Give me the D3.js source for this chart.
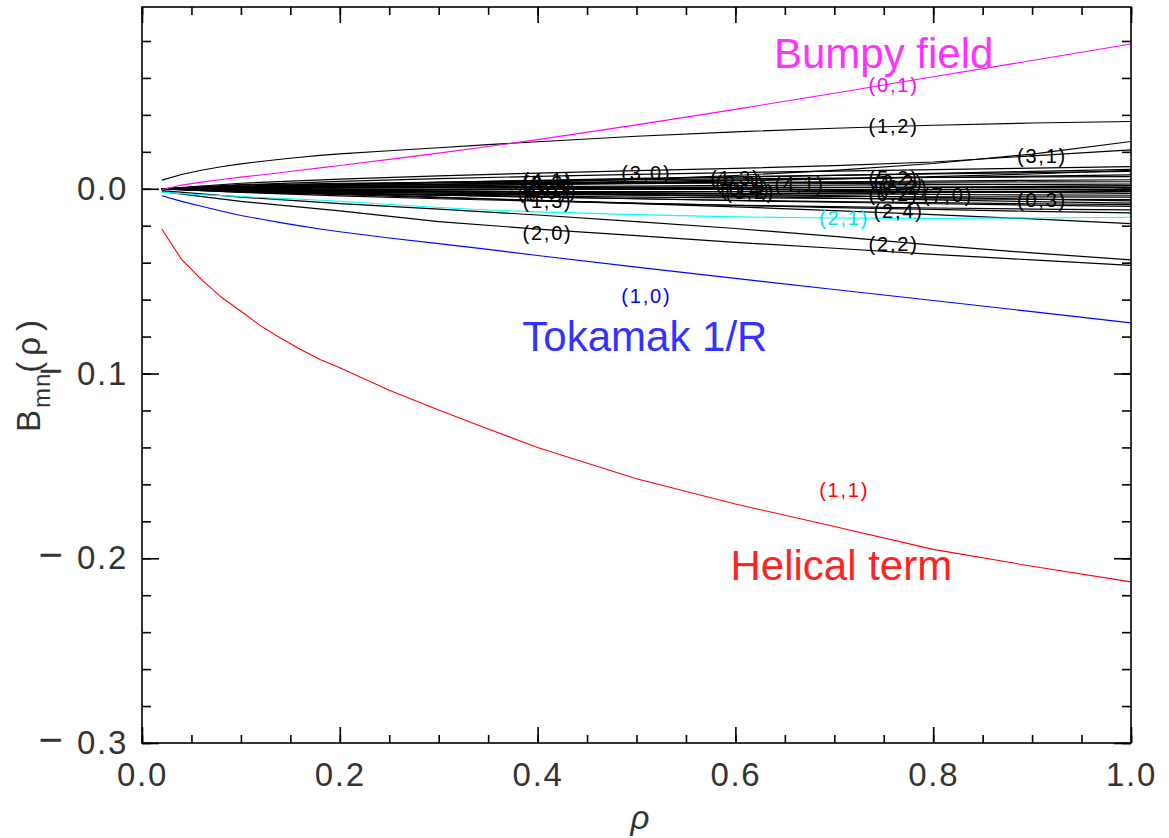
<!DOCTYPE html>
<html>
<head>
<meta charset="utf-8">
<script src="https://cdn.jsdelivr.net/npm/d3@7"></script>
<style>
body { margin: 0; background: #fff; }
text { font-family: "Liberation Sans", Arial, sans-serif; }
</style>
</head>
<body>
<svg id="chart" width="1169" height="838"></svg>
<script>
// radial grids
var rhoFine = [0.02, 0.04, 0.06, 0.08, 0.10, 0.12, 0.14, 0.16, 0.18, 0.20, 0.25, 0.30, 0.35, 0.40, 0.50, 0.60, 0.70, 0.80, 0.90, 1.00];
var rhoCoarse = [0.02, 0.10, 0.20, 0.30, 0.40, 0.50, 0.60, 0.70, 0.80, 0.90, 1.00];

// coloured modes and (1,2) (on rhoFine)
var mode11 = [-0.0218, -0.0382, -0.0490, -0.0586, -0.0663, -0.0742, -0.0808, -0.0869, -0.0924, -0.0969, -0.1090, -0.1197, -0.1300, -0.1400, -0.1570, -0.1706, -0.1828, -0.1952, -0.2043, -0.2128];
var mode10 = [-0.0038, -0.0068, -0.0095, -0.0120, -0.0145, -0.0164, -0.0183, -0.0201, -0.0218, -0.0233, -0.0266, -0.0297, -0.0328, -0.0361, -0.0424, -0.0485, -0.0545, -0.0605, -0.0665, -0.0726];
var mode01 = [-0.0005, 0.0020, 0.0036, 0.0050, 0.0063, 0.0075, 0.0087, 0.0100, 0.0113, 0.0126, 0.0159, 0.0193, 0.0229, 0.0266, 0.0346, 0.0430, 0.0517, 0.0606, 0.0694, 0.0784];
var mode21 = [-0.0018, -0.0026, -0.0032, -0.0037, -0.0042, -0.0047, -0.0052, -0.0057, -0.0062, -0.0068, -0.0085, -0.0101, -0.0115, -0.0125, -0.0140, -0.0152, -0.0158, -0.0160, -0.0158, -0.0154];
var mode12 = [0.0047, 0.0077, 0.0100, 0.0119, 0.0135, 0.0148, 0.0160, 0.0171, 0.0181, 0.0189, 0.0206, 0.0222, 0.0239, 0.0255, 0.0284, 0.0308, 0.0328, 0.0344, 0.0356, 0.0364];

// other black modes (on rhoCoarse)
var mode31 = [0.0000, 0.0006, 0.0014, 0.0024, 0.0036, 0.0051, 0.0072, 0.0100, 0.0137, 0.0188, 0.0256];
var mode30 = [0.0000, 0.0030, 0.0052, 0.0070, 0.0085, 0.0098, 0.0111, 0.0125, 0.0145, 0.0178, 0.0211];
var modeA = [0.0000, 0.0022, 0.0040, 0.0055, 0.0067, 0.0078, 0.0088, 0.0096, 0.0104, 0.0112, 0.0120];
var modeB = [0.0000, 0.0012, 0.0024, 0.0035, 0.0046, 0.0056, 0.0065, 0.0073, 0.0080, 0.0087, 0.0094];
var modeC = [0.0000, 0.0015, 0.0027, 0.0036, 0.0043, 0.0049, 0.0054, 0.0058, 0.0061, 0.0064, 0.0066];
var modeD = [0.0000, 0.0005, 0.0010, 0.0016, 0.0022, 0.0028, 0.0033, 0.0038, 0.0042, 0.0046, 0.0049];
var modeE = [0.0000, 0.0010, 0.0018, 0.0024, 0.0028, 0.0031, 0.0033, 0.0035, 0.0036, 0.0037, 0.0038];
var modeF = [0.0000, 0.0003, 0.0006, 0.0009, 0.0012, 0.0015, 0.0018, 0.0020, 0.0022, 0.0024, 0.0026];
var modeG = [0.0000, -0.0004, -0.0006, -0.0006, -0.0004, -0.0001, 0.0002, 0.0006, 0.0009, 0.0012, 0.0015];
var modeH = [0.0000, 0.0006, 0.0009, 0.0010, 0.0010, 0.0009, 0.0008, 0.0007, 0.0006, 0.0005, 0.0005];
var modeI = [0.0000, -0.0002, -0.0003, -0.0004, -0.0004, -0.0004, -0.0004, -0.0005, -0.0005, -0.0005, -0.0005];
var modeJ = [0.0000, -0.0008, -0.0012, -0.0014, -0.0015, -0.0015, -0.0015, -0.0015, -0.0015, -0.0015, -0.0015];
var modeK = [0.0000, 0.0004, 0.0006, 0.0005, 0.0003, 0.0000, -0.0004, -0.0009, -0.0014, -0.0019, -0.0025];
var modeL = [0.0000, -0.0006, -0.0011, -0.0015, -0.0019, -0.0022, -0.0025, -0.0028, -0.0031, -0.0033, -0.0035];
var mode03 = [0.0000, -0.0002, -0.0006, -0.0011, -0.0016, -0.0022, -0.0029, -0.0037, -0.0046, -0.0056, -0.0065];
var modeM = [0.0000, -0.0015, -0.0026, -0.0034, -0.0040, -0.0045, -0.0049, -0.0052, -0.0055, -0.0057, -0.0059];
var modeN = [0.0000, -0.0012, -0.0024, -0.0035, -0.0045, -0.0054, -0.0062, -0.0069, -0.0075, -0.0081, -0.0086];
var modeO = [0.0000, -0.0020, -0.0038, -0.0054, -0.0067, -0.0079, -0.0089, -0.0097, -0.0104, -0.0110, -0.0114];
var modeP = [0.0000, -0.0010, -0.0025, -0.0045, -0.0063, -0.0080, -0.0098, -0.0118, -0.0140, -0.0163, -0.0189];
var modeQ = [0.0000, 0.0020, 0.0030, 0.0034, 0.0035, 0.0034, 0.0032, 0.0029, 0.0026, 0.0022, 0.0018];
var modeR = [0.0000, -0.0018, -0.0028, -0.0032, -0.0032, -0.0030, -0.0027, -0.0024, -0.0021, -0.0018, -0.0014];
var modeS = [0.0000, -0.0004, -0.0010, -0.0017, -0.0025, -0.0033, -0.0041, -0.0050, -0.0060, -0.0070, -0.0078];
var modeT = [0.0000, 0.0003, 0.0009, 0.0016, 0.0024, 0.0033, 0.0043, 0.0054, 0.0066, 0.0080, 0.0100];
var modeU = [0.0000, -0.0010, -0.0018, -0.0023, -0.0026, -0.0027, -0.0026, -0.0024, -0.0020, -0.0015, -0.0008];
var modeV = [0.0000, 0.0010, 0.0021, 0.0032, 0.0043, 0.0053, 0.0063, 0.0073, 0.0083, 0.0094, 0.0105];
var modeW = [0.0000, 0.0008, 0.0016, 0.0024, 0.0032, 0.0040, 0.0047, 0.0054, 0.0061, 0.0068, 0.0075];
var modeX = [0.0000, -0.0009, -0.0017, -0.0024, -0.0030, -0.0035, -0.0038, -0.0041, -0.0043, -0.0044, -0.0045];
var modeY = [0.0000, -0.0011, -0.0022, -0.0033, -0.0044, -0.0054, -0.0064, -0.0073, -0.0081, -0.0088, -0.0095];
var modeZ = [0.0000, -0.0016, -0.0032, -0.0048, -0.0063, -0.0077, -0.0090, -0.0102, -0.0112, -0.0122, -0.0130];
var modeAA = [0.0000, 0.0002, 0.0004, 0.0006, 0.0007, 0.0008, 0.0008, 0.0008, 0.0008, 0.0008, 0.0008];
var mode22 = [-0.0010, -0.0045, -0.0080, -0.0110, -0.0142, -0.0178, -0.0215, -0.0258, -0.0305, -0.0347, -0.0385];
var mode20 = [-0.0015, -0.0068, -0.0120, -0.0178, -0.0218, -0.0254, -0.0290, -0.0322, -0.0355, -0.0385, -0.0415];

// mode labels
var labelText = ["(4,1)", "(2,3)", "(0,2)", "(3,2)", "(1,3)", "(4,0)",
                 "(1,3)", "(2,3)", "(0,4)", "(3,2)", "(4,1)",
                 "(5,2)", "(3,2)", "(6,2)", "(0,2)", "(2,4)", "(7,0)",
                 "(0,1)", "(1,2)", "(3,1)", "(0,3)", "(2,2)", "(2,1)", "(1,0)", "(2,0)", "(1,1)", "(3,0)"];
var labelRho = [0.41, 0.41, 0.41, 0.415, 0.41, 0.405,
                0.60, 0.605, 0.61, 0.615, 0.665,
                0.76, 0.765, 0.77, 0.76, 0.765, 0.815,
                0.76, 0.76, 0.91, 0.91, 0.76, 0.71, 0.51, 0.41, 0.71, 0.51];
var labelVal = [0.0050, 0.0030, 0.0005, -0.0010, -0.0068, -0.0020,
                0.0060, 0.0030, 0.0000, -0.0020, 0.0025,
                0.0060, 0.0035, 0.0010, -0.0030, -0.0120, -0.0035,
                0.0562, 0.0341, 0.0178, -0.0059, -0.0297, -0.0157, -0.0578, -0.0238, -0.1632, 0.0086];
var labelColor = ["#000", "#000", "#000", "#000", "#000", "#000",
                  "#000", "#000", "#000", "#000", "#000",
                  "#000", "#000", "#000", "#000", "#000", "#000",
                  "#ff00ff", "#000", "#000", "#000", "#000", "#00e5e5", "#0000ff", "#000", "#ff0000", "#000"];

// big annotations
var noteText = ["Bumpy field", "Tokamak 1/R", "Helical term"];
var noteRho = [0.639, 0.3846, 0.595];
var noteVal = [0.0654, -0.0876, -0.2119];
var noteColor = ["#ff33ff", "#3333ff", "#ff2222"];

var xMajorTicks = [0.0, 0.2, 0.4, 0.6, 0.8, 1.0];
var yMajorTicks = [-0.3, -0.2, -0.1, 0.0];

var blackModes = [mode31, mode30, modeA, modeB, modeC, modeD, modeE, modeF, modeG, modeH,
                  modeI, modeJ, modeK, modeL, mode03, modeM, modeN, modeO, modeP, modeQ, modeR,
                  modeS, modeT, modeU, modeV, modeW, modeX, modeY, modeZ, modeAA, mode22, mode20];
var fineModes = [
  {vals: mode12, color: "#000"},
  {vals: mode01, color: "#ff00ff"},
  {vals: mode21, color: "#00ffff"},
  {vals: mode10, color: "#0000ff"},
  {vals: mode11, color: "#ff0000"}
];

var svg = d3.select("#chart");
var pLeft = 142, pRight = 1131, pTop = 7, pBottom = 743;

var x = d3.scaleLinear().domain([0, 1]).range([pLeft, pRight]);
var y = d3.scaleLinear().domain([-0.3, 0.0984]).range([pBottom, pTop]);

svg.append("clipPath").attr("id", "plotclip")
  .append("rect").attr("x", pLeft).attr("y", pTop)
  .attr("width", pRight - pLeft).attr("height", pBottom - pTop);

var line = d3.line().x(function(d) { return x(d[0]); }).y(function(d) { return y(d[1]); });

var plot = svg.append("g").attr("clip-path", "url(#plotclip)");

blackModes.forEach(function(vals) {
  plot.append("path")
    .attr("d", line(d3.zip(rhoCoarse, vals)))
    .attr("fill", "none")
    .attr("stroke", "#000")
    .attr("stroke-width", 1.2);
});

fineModes.forEach(function(m) {
  plot.append("path")
    .attr("d", line(d3.zip(rhoFine, m.vals)))
    .attr("fill", "none")
    .attr("stroke", m.color)
    .attr("stroke-width", 1.1);
});

// mode labels
labelText.forEach(function(t, i) {
  svg.append("text")
    .attr("x", x(labelRho[i]))
    .attr("y", y(labelVal[i]))
    .attr("dy", "0.35em")
    .attr("text-anchor", "middle")
    .attr("font-size", "20px")
    .attr("letter-spacing", "1.8px")
    .attr("fill", labelColor[i])
    .text(t);
});

noteText.forEach(function(t, i) {
  svg.append("text")
    .attr("x", x(noteRho[i]))
    .attr("y", y(noteVal[i]))
    .attr("font-size", "42px")
    .attr("fill", noteColor[i])
    .text(t);
});

// axes
var fmt = d3.format(".1f");

function styleAxis(g) {
  g.select(".domain").remove();
  g.selectAll(".tick line").attr("stroke", "#000").attr("stroke-width", 1.6);
  g.selectAll(".tick text")
    .attr("fill", "#333")
    .attr("font-size", "33px")
    .attr("letter-spacing", "1.7px")
    .style("font-family", "'Liberation Sans', Arial, sans-serif");
}

function wideMinus(g) {
  g.selectAll(".tick text").each(function(d) {
    if (d < 0) {
      var t = d3.select(this).text("");
      t.append("tspan").attr("font-size", "42px").attr("letter-spacing", "14px").text("\u2212");
      t.append("tspan").text(fmt(-d));
    }
  });
}

svg.append("g").attr("transform", "translate(0," + pBottom + ")")
  .call(d3.axisBottom(x).tickValues(d3.range(0, 1.0001, 0.05)).tickSize(-8).tickFormat(""))
  .call(styleAxis);
svg.append("g").attr("transform", "translate(0," + pBottom + ")")
  .call(d3.axisBottom(x).tickValues(xMajorTicks).tickSize(-16).tickPadding(20).tickFormat(fmt))
  .call(styleAxis);
svg.append("g").attr("transform", "translate(0," + pTop + ")")
  .call(d3.axisTop(x).tickValues(d3.range(0, 1.0001, 0.05)).tickSize(-8).tickFormat(""))
  .call(styleAxis);
svg.append("g").attr("transform", "translate(0," + pTop + ")")
  .call(d3.axisTop(x).tickValues(xMajorTicks).tickSize(-16).tickFormat(""))
  .call(styleAxis);

svg.append("g").attr("transform", "translate(" + pLeft + ",0)")
  .call(d3.axisLeft(y).tickValues(d3.range(-0.3, 0.0901, 0.02)).tickSize(-9).tickFormat(""))
  .call(styleAxis);
svg.append("g").attr("transform", "translate(" + pLeft + ",0)")
  .call(d3.axisLeft(y).tickValues(yMajorTicks).tickSize(-17).tickPadding(14).tickFormat(fmt))
  .call(styleAxis)
  .call(wideMinus);
svg.append("g").attr("transform", "translate(" + pRight + ",0)")
  .call(d3.axisRight(y).tickValues(d3.range(-0.3, 0.0901, 0.02)).tickSize(-9).tickFormat(""))
  .call(styleAxis);
svg.append("g").attr("transform", "translate(" + pRight + ",0)")
  .call(d3.axisRight(y).tickValues(yMajorTicks).tickSize(-17).tickFormat(""))
  .call(styleAxis);

// frame
svg.append("rect")
  .attr("x", pLeft).attr("y", pTop)
  .attr("width", pRight - pLeft).attr("height", pBottom - pTop)
  .attr("fill", "none").attr("stroke", "#000").attr("stroke-width", 1.6);

// axis titles
svg.append("text")
  .attr("x", (pLeft + pRight) / 2 - 6)
  .attr("y", 829)
  .attr("font-size", "33px")
  .attr("font-style", "italic")
  .attr("fill", "#333")
  .text("ρ");

var ytitle = svg.append("text")
  .attr("transform", "translate(40,432) rotate(-90)")
  .attr("font-size", "33px")
  .attr("fill", "#333");
ytitle.append("tspan").attr("letter-spacing", "2px").text("B");
ytitle.append("tspan").attr("font-size", "24px").attr("dy", 10).attr("letter-spacing", "1px").text("mn");
ytitle.append("tspan").attr("dy", -10).attr("letter-spacing", "6px").text("(ρ)");
</script>
</body>
</html>
